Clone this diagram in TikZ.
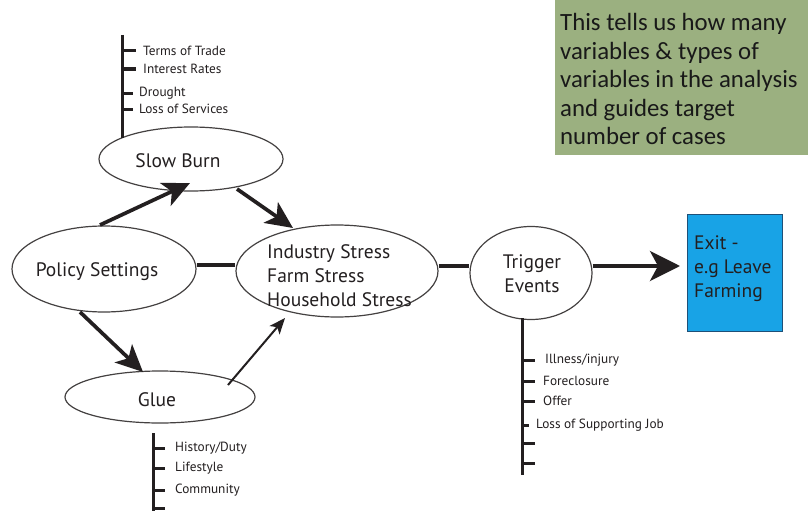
\documentclass[tikz,border=0pt]{standalone}
\usepackage{fontspec}
\setmainfont{PT Sans}
\newfontfamily\calib{Carlito}
\usetikzlibrary{shapes.geometric,arrows.meta,calc}
\definecolor{notegreen}{RGB}{155,176,128}
\definecolor{exitblue}{RGB}{24,163,230}
\definecolor{exitedge}{RGB}{30,80,120}
\definecolor{ink}{RGB}{35,31,32}
\begin{document}
\begin{tikzpicture}[x=1pt,y=-1pt,
  oval/.style={ellipse, draw=ink!85, line width=1.2pt, inner sep=0pt},
  lbl/.style={text=ink, font=\fontsize{19.5}{24}\selectfont, inner sep=0pt, align=center},
  small/.style={text=ink, font=\fontsize{13.3}{15}\selectfont, inner sep=0pt, anchor=west},
  heavy/.style={draw=ink, line width=3.7pt, -{Stealth[length=27pt,width=25pt,inset=7pt]}},
  heavyx/.style={draw=ink, line width=3.7pt, -{Stealth[length=30pt,width=30pt,inset=8pt]}},
  thinarrow/.style={draw=ink, line width=2pt, -{Stealth[length=16pt,width=13pt,inset=4pt]}},
  plain/.style={draw=ink, line width=3.4pt},
  bar/.style={draw=ink, line width=3pt}]
\useasboundingbox (0,0) rectangle (808,511);
\fill[white] (0,0) rectangle (808,511);

% note box
\node[fill=notegreen, minimum width=253pt, minimum height=155pt, anchor=north west,
      inner sep=0pt] (note) at (555,0) {};
\node[anchor=west, inner sep=0pt, align=left, text=black!90,
      font=\calib\fontsize{24.8}{28.5}\selectfont]
      (notet) at (560,79) {This tells us how many\\variables \& types of\\variables in the analysis\\and guides target\\number of cases};

% ellipses
\node[oval, minimum width=184pt, minimum height=64pt] (slow) at (191,159) {};
\node[lbl] (slowt) at (178,161) {Slow Burn};
\node[oval, minimum width=184pt, minimum height=86pt] (pol) at (104,269) {};
\node[lbl] (polt) at (97,272) {Policy Settings};
\node[oval, minimum width=190pt, minimum height=52pt] (glue) at (160,397) {};
\node[lbl] (gluet) at (157,400) {Glue};
\node[oval, minimum width=202pt, minimum height=92pt] (ind) at (337,271) {};
\node[lbl, align=left, anchor=west] (indt) at (267,276) {Industry Stress\\Farm Stress\\Household Stress};
\node[oval, minimum width=122pt, minimum height=93pt] (trig) at (531,273) {};
\node[lbl] (trigt) at (532,274) {Trigger\\Events};

% exit box
\node[draw=exitedge, line width=0.8pt, fill=exitblue, minimum width=95pt, minimum height=117pt,
      anchor=north west, inner sep=0pt] (exit) at (687,214) {};
\node[lbl, align=left, anchor=west, text=ink] (exitt) at (694,269) {Exit -\\e.g Leave\\Farming};

% connectors
\draw[heavy] ($(pol.center)+(-4,-44)$) -- ($(slow.center)+(-1,24)$);
\draw[heavy] ($(slow.center)+(46,30)$) -- ($(ind.center)+(-44,-43)$);
\draw[heavy] ($(pol.center)+(-24,43)$) -- ($(glue.center)+(-17,-25)$);
\draw[thinarrow] ($(glue.center)+(68,-12)$) -- ($(ind.center)+(-52,47)$);
\draw[plain] ($(pol.east)+(0,-4)$) -- ($(ind.west)+(0,-6)$);
\draw[plain] ($(ind.east)+(0,-5)$) -- ($(trig.west)+(0,-7)$);
\coordinate (te) at ($(trig.east)+(0,-7)$);
\draw[heavyx, shorten >=7pt] (te) -- (te -| exit.west);

% slow burn list
\coordinate (sbtop) at (122,35);
\draw[bar] (sbtop) -- (122,138);
\foreach \y/\l in {51/136, 69/136, 93/133, 109/133} {
  \draw[bar] (121,\y) -- (\l,\y);
}
\node[small] (sb1) at (143,51) {Terms of Trade};
\node[small] (sb2) at (143,69) {Interest Rates};
\node[small] (sb3) at (139,93) {Drought};
\node[small] (sb4) at (139,109) {Loss of Services};

% glue list
\coordinate (gltop) at (153,433);
\draw[bar] (gltop) -- (153,512);
\foreach \y in {448,468,490,508} {
  \draw[bar] (152,\y) -- (165,\y);
}
\node[small] (gl1) at (175,448) {History/Duty};
\node[small] (gl2) at (175,468) {Lifestyle};
\node[small] (gl3) at (175,490) {Community};

% trigger list
\coordinate (trtop) at (522,318);
\draw[bar] (trtop) -- (522,475);
\foreach \y/\l in {360/535, 381/535, 401/535, 425/529, 443/535, 463/535} {
  \draw[bar] (521,\y) -- (\l,\y);
}
\node[small] (tr1) at (545,360) {Illness/injury};
\node[small] (tr2) at (543,381) {Foreclosure};
\node[small] (tr3) at (543,401) {Offer};
\node[small] (tr4) at (536,425) {Loss of Supporting Job};
\end{tikzpicture}
\end{document}
